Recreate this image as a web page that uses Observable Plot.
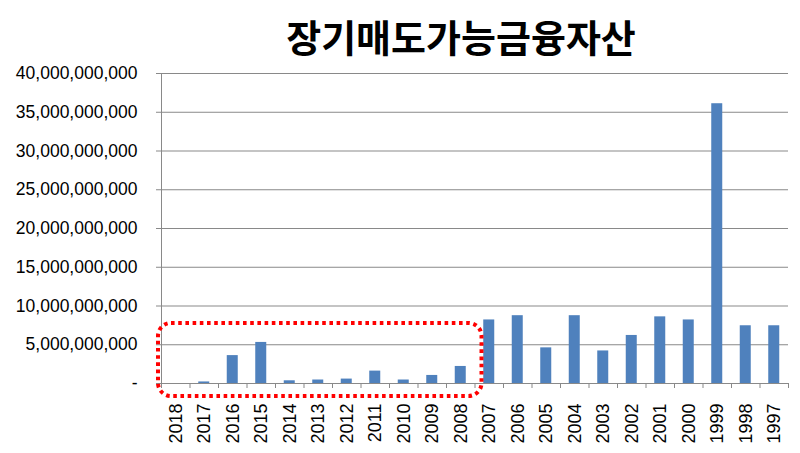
<!DOCTYPE html>
<html>
<head>
<meta charset="utf-8">
<script src="https://cdn.jsdelivr.net/npm/d3@7"></script>
<script src="https://cdn.jsdelivr.net/npm/@observablehq/plot@0.6"></script>
<style>
  html, body { margin: 0; padding: 0; background: #fff; overflow: hidden; }
  #wrap { position: relative; width: 800px; height: 453px; }
  #title { position: absolute; left: 461px; top: 14px; transform: translateX(-50%);
    font-family: "Noto Sans CJK KR", sans-serif; font-weight: bold; font-size: 38px;
    line-height: 44px; white-space: nowrap; color: #000; }
</style>
</head>
<body>
<div id="wrap"><div id="title">장기매도가능금융자산</div></div>
<script>
const years = ["2018","2017","2016","2015","2014","2013","2012","2011","2010","2009","2008",
  "2007","2006","2005","2004","2003","2002","2001","2000","1999","1998","1997"];
const values = [0, 0.2e9, 3.6e9, 5.3e9, 0.35e9, 0.45e9, 0.57e9, 1.6e9, 0.45e9, 1.04e9, 2.2e9,
  8.2e9, 8.75e9, 4.6e9, 8.75e9, 4.2e9, 6.2e9, 8.6e9, 8.2e9, 36.1e9, 7.45e9, 7.45e9];
const yTicks = [0, 5e9, 10e9, 15e9, 20e9, 25e9, 30e9, 35e9, 40e9];
const highlightFrom = "2018", highlightTo = "2008", highlightTop = 7.75e9;

const data = years.map((y, i) => ({year: y, value: values[i]}));
const W = 800, H = 453, mL = 161, mR = 12, mT = 73, mB = 70;
const step = (W - mL - mR) / years.length;
const grid = "#898989";
const fmt = d => d === 0 ? "-" : d3.format(",")(d);

const plot = Plot.plot({
  width: W, height: H, marginLeft: mL, marginRight: mR, marginTop: mT, marginBottom: mB,
  style: {fontFamily: "Liberation Sans, Arial, sans-serif", fontSize: "17px", background: "transparent", overflow: "visible"},
  x: {domain: years, paddingInner: 0.614, paddingOuter: 0.307, round: false, axis: null, label: null},
  y: {domain: [0, 40e9], axis: null, label: null},
  marks: [
    Plot.ruleY(yTicks, {stroke: grid, strokeWidth: 1}),
    Plot.axisY({ticks: yTicks, tickSize: 5, tickPadding: 19, tickFormat: fmt, stroke: grid, fill: "#000", fontSize: 17.5, label: null}),
    Plot.ruleX([years[0]], {x: d => d, y1: 0, y2: 40e9, dx: -step / 2, stroke: grid}),
    Plot.barY(data, {x: "year", y: "value", fill: "#4f81bd"}),
    Plot.ruleX(years, {x: d => d, y1: 0, y2: 0, insetBottom: -5, dx: -step / 2, stroke: grid}),
    Plot.ruleX([years[years.length - 1]], {x: d => d, y1: 0, y2: 0, insetBottom: -5, dx: step / 2, stroke: grid}),
    Plot.axisX({tickSize: 0, tickPadding: 20, tickRotate: -90, fill: "#000", fontSize: 18, label: null})
  ]
});
document.getElementById("wrap").appendChild(plot);
plot.style.position = "absolute"; plot.style.left = "0"; plot.style.top = "0";

// highlight annotation (dotted rounded box) from the plot's own scales
const sx = plot.scale("x"), sy = plot.scale("y");
const xb = d3.scaleBand(sx.domain, sx.range).paddingInner(sx.paddingInner ?? 0.614).paddingOuter(sx.paddingOuter ?? 0.307);
const yl = d3.scaleLinear(sy.domain, sy.range);
const st = xb.step(), bw = xb.bandwidth();
const x0 = xb(highlightFrom) - (st - bw) / 2 - 3;
const x1 = xb(highlightTo) + bw + (st - bw) / 2 + 7;
const y0 = yl(highlightTop), y1 = yl(0) + 13;
d3.select(plot).append("rect")
  .attr("x", x0).attr("y", y0).attr("width", x1 - x0).attr("height", y1 - y0)
  .attr("rx", 13).attr("fill", "none").attr("stroke", "#ff0000").attr("stroke-width", 4)
  .attr("stroke-dasharray", "3.6 3.6");
</script>
</body>
</html>
